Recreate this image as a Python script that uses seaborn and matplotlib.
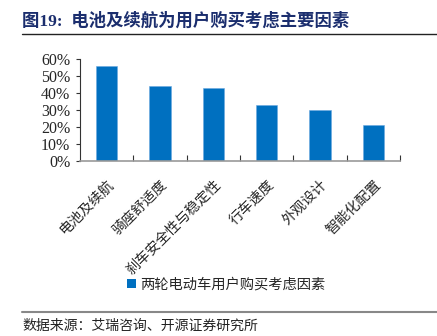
import matplotlib
matplotlib.use("Agg")
import matplotlib.pyplot as plt
import seaborn as sns
import pandas as pd
from matplotlib.lines import Line2D
from matplotlib.patches import Patch
from matplotlib.ticker import PercentFormatter, FixedLocator

categories = ["电池及续航", "骑座舒适度", "刹车安全性与稳定性", "行车速度", "外观设计", "智能化配置"]
values = [0.56, 0.44, 0.43, 0.33, 0.30, 0.21]
series_name = "两轮电动车用户购买考虑因素"
title = "图19:  电池及续航为用户购买考虑主要因素"
source = "数据来源：艾瑞咨询、开源证券研究所"

sns.set_theme(style="white")
cjk = ["Noto Sans CJK SC", "DejaVu Sans"]
plt.rcParams["font.family"] = cjk

bar_color = "#0070C0"
df = pd.DataFrame({"cat": categories, "val": values})

fig = plt.figure(figsize=(4.37, 3.36), dpi=100)
ax = fig.add_axes([80/437, (336-161)/336, 320/437, 102/336])
sns.barplot(data=df, x="cat", y="val", color=bar_color, width=0.4, ax=ax,
            saturation=1, edgecolor="#6AA8E0", linewidth=0.4)

ax.set_xlim(-0.5, len(categories) - 0.5)
ax.set_ylim(0, 0.6)
ax.yaxis.set_major_formatter(PercentFormatter(1.0, decimals=0))
ax.set_yticks([0, 0.1, 0.2, 0.3, 0.4, 0.5, 0.6])
for lab in ax.get_yticklabels():
    lab.set_fontfamily("Liberation Serif")
    lab.set_fontsize(11.5)
ax.tick_params(axis="y", direction="out", length=3, width=0.8, color="#333333", pad=4, left=True)
ax.set_xticks(range(len(categories)))
ax.set_xticklabels(categories, rotation=45, ha="right", rotation_mode="anchor", fontsize=10.2)
ax.tick_params(axis="x", bottom=False, pad=6)
ax.xaxis.set_minor_locator(FixedLocator([i + 0.5 for i in range(len(categories))]))
ax.tick_params(axis="x", which="minor", bottom=True, direction="in", length=4, width=0.8, color="#333333")
ax.set_xlabel("")
ax.set_ylabel("")
for s in ["top", "right"]:
    ax.spines[s].set_visible(False)
ax.spines["left"].set_color("#333333")
ax.spines["left"].set_linewidth(0.8)
ax.spines["bottom"].set_color("#999999")
ax.spines["bottom"].set_linewidth(1.2)

fig.text(22/437, 1 - 21/336, title, fontsize=12.5, fontweight="bold", color="#1B2E6E",
         va="center", ha="left", family=["Liberation Serif", "Noto Sans CJK SC"])
fig.add_artist(Line2D([22/437, 1.0], [1 - 34/336, 1 - 34/336], color="#222222", linewidth=1.0))
fig.add_artist(Line2D([22/437, 1.0], [1 - 312/336, 1 - 312/336], color="#888888", linewidth=1.5))
fig.text(22/437, 1 - 326/336, source, fontsize=10, color="#222222", va="center", ha="left")

handle = Patch(facecolor=bar_color, edgecolor="none")
fig.legend([handle], [series_name], loc="center", bbox_to_anchor=(226/437, 1 - 285/336),
           frameon=False, fontsize=10.3, handlelength=0.6, handleheight=0.6, handletextpad=0.3)

fig.savefig("out.png", dpi=100)
